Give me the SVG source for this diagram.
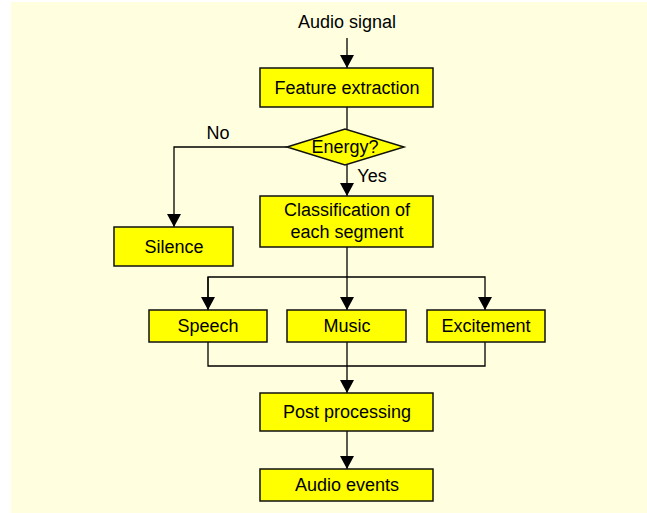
<svg xmlns="http://www.w3.org/2000/svg" width="647" height="513" viewBox="0 0 647 513">
<style>
.n{fill:#ffff00;stroke:#111;stroke-width:1.5}
.t{font-family:"Liberation Sans",Arial,sans-serif;font-size:18px;fill:#000;text-anchor:middle}
.c{fill:none;stroke:#000;stroke-width:1.3}
</style>
<defs>
<marker id="a" markerWidth="13" markerHeight="14" refX="13" refY="7" orient="auto" markerUnits="userSpaceOnUse">
<path d="M0,0 L13,7 L0,14 Z" fill="#000"/>
</marker>
</defs>
<rect x="11" y="2" width="636" height="511" fill="#ffffe0"/>
<g id="connectors">
<path class="c" d="M347,38 V68" marker-end="url(#a)"/>
<path class="c" d="M347,107 V129"/>
<path class="c" d="M287,147 H174 V227" marker-end="url(#a)"/>
<path class="c" d="M347,165 V196" marker-end="url(#a)"/>
<path class="c" d="M347,247 V310" marker-end="url(#a)"/>
<path class="c" d="M208,310 V277 H485 V310" marker-end="url(#a)"/>
<path class="c" d="M208,277 V310" marker-end="url(#a)"/>
<path class="c" d="M208,342 V366 H485 V342"/>
<path class="c" d="M347,342 V393" marker-end="url(#a)"/>
<path class="c" d="M347,431 V469" marker-end="url(#a)"/>
</g>
<g id="audio-signal"><text class="t" x="347" y="28">Audio signal</text></g>
<g id="feature-extraction"><rect class="n" x="260" y="68" width="173" height="39"/><text class="t" x="347" y="94">Feature extraction</text></g>
<g id="energy"><polygon class="n" points="287,147 345,129 404,147 345,165"/><text class="t" x="345" y="153">Energy?</text></g>
<g id="no-label"><text class="t" x="218" y="139">No</text></g>
<g id="yes-label"><text class="t" x="372" y="182">Yes</text></g>
<g id="silence"><rect class="n" x="114" y="227" width="119" height="39"/><text class="t" x="174" y="253">Silence</text></g>
<g id="classification"><rect class="n" x="260" y="196" width="173" height="51"/><text class="t" x="347" y="216">Classification of</text><text class="t" x="347" y="238">each segment</text></g>
<g id="speech"><rect class="n" x="149" y="310" width="118" height="32"/><text class="t" x="208" y="332">Speech</text></g>
<g id="music"><rect class="n" x="287" y="310" width="119" height="32"/><text class="t" x="347" y="332">Music</text></g>
<g id="excitement"><rect class="n" x="427" y="310" width="118" height="32"/><text class="t" x="486" y="332">Excitement</text></g>
<g id="post-processing"><rect class="n" x="260" y="393" width="173" height="38"/><text class="t" x="347" y="418">Post processing</text></g>
<g id="audio-events"><rect class="n" x="260" y="469" width="173" height="32"/><text class="t" x="347" y="491">Audio events</text></g>
</svg>
